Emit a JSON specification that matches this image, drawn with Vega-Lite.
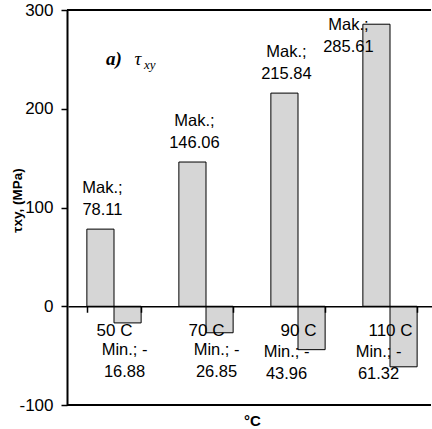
{
  "$schema": "https://vega.github.io/schema/vega-lite/v6.json",
  "width": 364,
  "height": 395,
  "autosize": {"type": "none"},
  "padding": {"left": 67, "top": 10, "right": 1, "bottom": 24},
  "background": "white",
  "config": {"view": {"stroke": null}, "font": "Liberation Sans", "axis": {"grid": false}},
  "data": {"values": [
    {"temp": "50 C", "type": "Mak", "value": 78.11, "label": "Mak.;\n78.11"},
    {"temp": "50 C", "type": "Min", "value": -16.88, "label": "Min.; -\n16.88"},
    {"temp": "70 C", "type": "Mak", "value": 146.06, "label": "Mak.;\n146.06"},
    {"temp": "70 C", "type": "Min", "value": -26.85, "label": "Min.; -\n26.85"},
    {"temp": "90 C", "type": "Mak", "value": 215.84, "label": "Mak.;\n215.84"},
    {"temp": "90 C", "type": "Min", "value": -43.96, "label": "Min.; -\n43.96"},
    {"temp": "110 C", "type": "Mak", "value": 285.61, "label": "Mak.;\n285.61"},
    {"temp": "110 C", "type": "Min", "value": -61.32, "label": "Min.; -\n61.32"}
  ]},
  "layer": [
    {
      "mark": {"type": "bar", "fill": "#d6d6d6", "stroke": "black", "strokeWidth": 1},
      "encoding": {
        "x": {
          "field": "temp", "type": "nominal", "sort": null,
          "scale": {"range": [1, 369], "paddingInner": 0.41, "paddingOuter": 0.205},
          "axis": {
            "title": "°C", "orient": "bottom", "offset": -98.75, "zindex": 1,
            "domainColor": "black", "domainWidth": 1.5,
            "tickColor": "black", "tickSize": 6, "tickWidth": 1.5, "tickBand": "extent",
            "labelAngle": 0, "labelFont": "Liberation Sans", "labelFontSize": 17, "labelColor": "black",
            "labelPadding": 10, "labelBaseline": "top",
            "titleFont": "Liberation Sans", "titleFontSize": 15, "titleFontWeight": "bold", "titleColor": "black",
            "titleX": 185, "titleY": 119, "titleBaseline": "alphabetic", "titleAlign": "center"
          }
        },
        "xOffset": {"field": "type", "type": "nominal", "scale": {"paddingInner": 0, "paddingOuter": 0}},
        "y": {
          "field": "value", "type": "quantitative",
          "scale": {"domain": [-100, 300], "nice": false},
          "axis": {
            "values": [-100, 0, 100, 200, 300], "title": "τxy, (MPa)",
            "labelExpr": "replace(datum.label, '−', '-')",
            "domainColor": "black", "domainWidth": 2,
            "tickColor": "black", "tickSize": 6, "tickWidth": 1.5,
            "labelFont": "Liberation Sans", "labelFontSize": 17, "labelColor": "black", "labelPadding": 8,
            "titleFont": "Liberation Sans", "titleFontSize": 13.5, "titleFontWeight": "bold", "titleColor": "black",
            "titleX": -50, "titleY": 190, "titleAngle": 270, "titleAlign": "center", "titleBaseline": "middle"
          }
        }
      }
    },
    {"mark": {"type": "rule", "color": "black", "strokeWidth": 2}, "encoding": {"y": {"datum": 300}}},
    {"mark": {"type": "rule", "color": "black", "strokeWidth": 2}, "encoding": {"y": {"datum": -100}}},
    {
      "transform": [{"filter": "datum.type == 'Mak' && datum.temp != '110 C'"}],
      "mark": {"type": "text", "align": "center", "baseline": "bottom", "dy": -33, "dx": 2, "fontSize": 16.5, "lineHeight": 22, "lineBreak": "\n", "color": "black"},
      "encoding": {
        "x": {"field": "temp", "type": "nominal", "sort": null},
        "xOffset": {"field": "type", "type": "nominal"},
        "y": {"field": "value", "type": "quantitative"},
        "text": {"field": "label"}
      }
    },
    {
      "transform": [{"filter": "datum.type == 'Mak' && datum.temp == '110 C'"}],
      "mark": {"type": "text", "align": "center", "baseline": "top", "dy": -7, "dx": -28, "fontSize": 16.5, "lineHeight": 22, "lineBreak": "\n", "color": "black"},
      "encoding": {
        "x": {"field": "temp", "type": "nominal", "sort": null},
        "xOffset": {"field": "type", "type": "nominal"},
        "y": {"field": "value", "type": "quantitative"},
        "text": {"field": "label"}
      }
    },
    {
      "transform": [{"filter": "datum.type == 'Min' && (datum.temp == '50 C' || datum.temp == '70 C')"}],
      "mark": {"type": "text", "align": "center", "baseline": "top", "dx": -3, "fontSize": 16.5, "lineHeight": 22, "lineBreak": "\n", "color": "black"},
      "encoding": {
        "x": {"field": "temp", "type": "nominal", "sort": null},
        "xOffset": {"field": "type", "type": "nominal"},
        "y": {"datum": -36},
        "text": {"field": "label"}
      }
    },
    {
      "transform": [{"filter": "datum.type == 'Min' && (datum.temp == '90 C' || datum.temp == '110 C')"}],
      "mark": {"type": "text", "align": "center", "baseline": "top", "dx": -25, "fontSize": 16.5, "lineHeight": 22, "lineBreak": "\n", "color": "black"},
      "encoding": {
        "x": {"field": "temp", "type": "nominal", "sort": null},
        "xOffset": {"field": "type", "type": "nominal"},
        "y": {"datum": -38},
        "text": {"field": "label"}
      }
    },
    {
      "data": {"values": [{"t": "a)"}]},
      "mark": {"type": "text", "align": "center", "baseline": "alphabetic", "font": "Liberation Serif", "fontStyle": "italic", "fontWeight": "bold", "fontSize": 19, "color": "black"},
      "encoding": {"x": {"datum": "50 C"}, "y": {"datum": 244}, "text": {"field": "t"}}
    },
    {
      "data": {"values": [{"t": "τ"}]},
      "mark": {"type": "text", "align": "left", "baseline": "alphabetic", "dx": 20.5, "font": "Liberation Serif", "fontStyle": "italic", "fontSize": 19, "color": "black"},
      "encoding": {"x": {"datum": "50 C"}, "y": {"datum": 244}, "text": {"field": "t"}}
    },
    {
      "data": {"values": [{"t": "xy"}]},
      "mark": {"type": "text", "align": "left", "baseline": "alphabetic", "dx": 30, "dy": 4, "font": "Liberation Serif", "fontStyle": "italic", "fontSize": 13, "color": "black"},
      "encoding": {"x": {"datum": "50 C"}, "y": {"datum": 244}, "text": {"field": "t"}}
    }
  ]
}
